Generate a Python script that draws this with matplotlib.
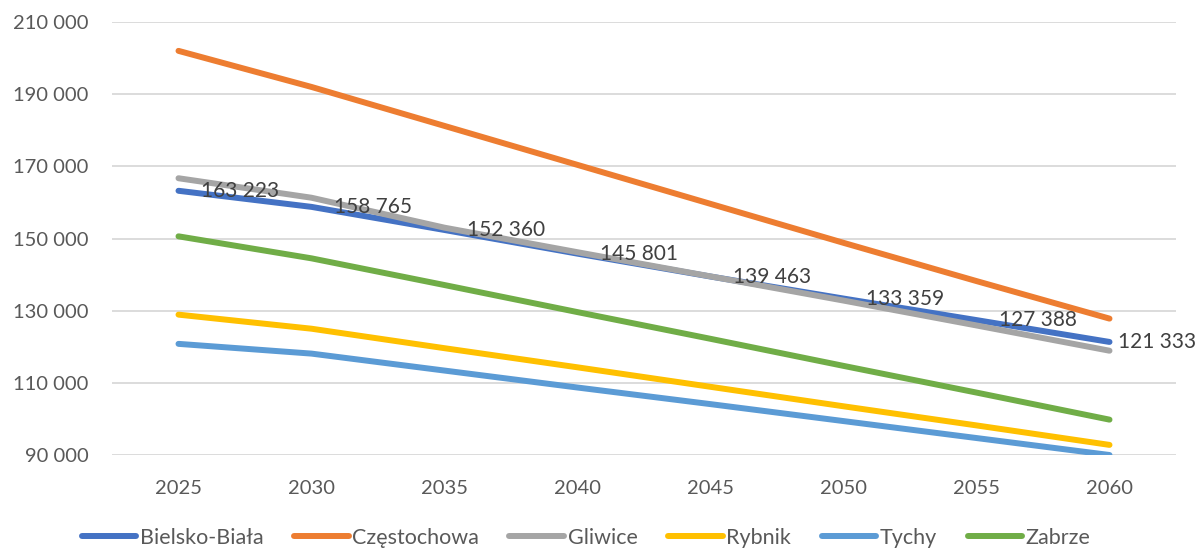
import numpy as np
import matplotlib.pyplot as plt
from matplotlib.ticker import FuncFormatter

plt.rcParams['font.family'] = ['Lato', 'DejaVu Sans']

# Population forecast, selected cities
years = ['2025', '2030', '2035', '2040', '2045', '2050', '2055', '2060']
bielsko = [163223, 158765, 152360, 145801, 139463, 133359, 127388, 121333]
czestochowa = [202000, 192000, 181200, 170400, 159600, 148800, 138200, 127800]
gliwice = [166700, 161300, 153000, 146200, 139500, 132800, 125900, 118900]
rybnik = [128900, 125000, 119600, 114300, 108900, 103500, 98200, 92800]
tychy = [120800, 118100, 113400, 108700, 104100, 99400, 94700, 90000]
zabrze = [150600, 144500, 137100, 129600, 122200, 114700, 107300, 99800]

names = ['Bielsko-Biała', 'Częstochowa', 'Gliwice', 'Rybnik', 'Tychy', 'Zabrze']
series = [bielsko, czestochowa, gliwice, rybnik, tychy, zabrze]
colors = ['#4472C4', '#ED7D31', '#A5A5A5', '#FFC000', '#5B9BD5', '#70AD47']


def fmt(v):
    return f'{int(v):,}'.replace(',', ' ')


fig = plt.figure(figsize=(11.96, 5.49), dpi=100)
ax = fig.add_axes([112 / 1196, 1 - 455 / 549, 1064 / 1196, 433 / 549])

x = np.arange(len(years))
for name, vals, c in zip(names, series, colors):
    ax.plot(x, vals, color=c, lw=4.3, solid_capstyle='round', label=name)

# value labels for Bielsko-Biała, the last one sits closer to its point
for xi, v in zip(x, bielsko):
    off = 6 if xi == x[-1] else 16
    ax.annotate(fmt(v), (xi, v), xytext=(off, 0),
                textcoords='offset points', ha='left', va='center',
                fontsize=15, color='#404040', zorder=5)

ax.set_xlim(-0.5, len(years) - 0.5)
ax.set_ylim(90000, 210000)
ax.set_yticks(range(90000, 210001, 20000))
ax.yaxis.set_major_formatter(FuncFormatter(lambda v, p: fmt(v)))
ax.set_xticks(x)
ax.set_xticklabels(years)
ax.grid(axis='y', color='#D9D9D9', lw=1.3)
ax.set_axisbelow(True)
for s in ax.spines.values():
    s.set_visible(False)
ax.tick_params(length=0, labelsize=14.5, colors='#595959')
ax.tick_params(axis='x', pad=18)
ax.tick_params(axis='y', pad=17)

fig.legend(loc='center', bbox_to_anchor=(0.49, 1 - 538 / 549), ncol=6, frameon=False,
           fontsize=15.5, labelcolor='#595959', handlelength=2.55, handletextpad=0.15,
           columnspacing=1.42)

fig.savefig('out.png', dpi=100)
